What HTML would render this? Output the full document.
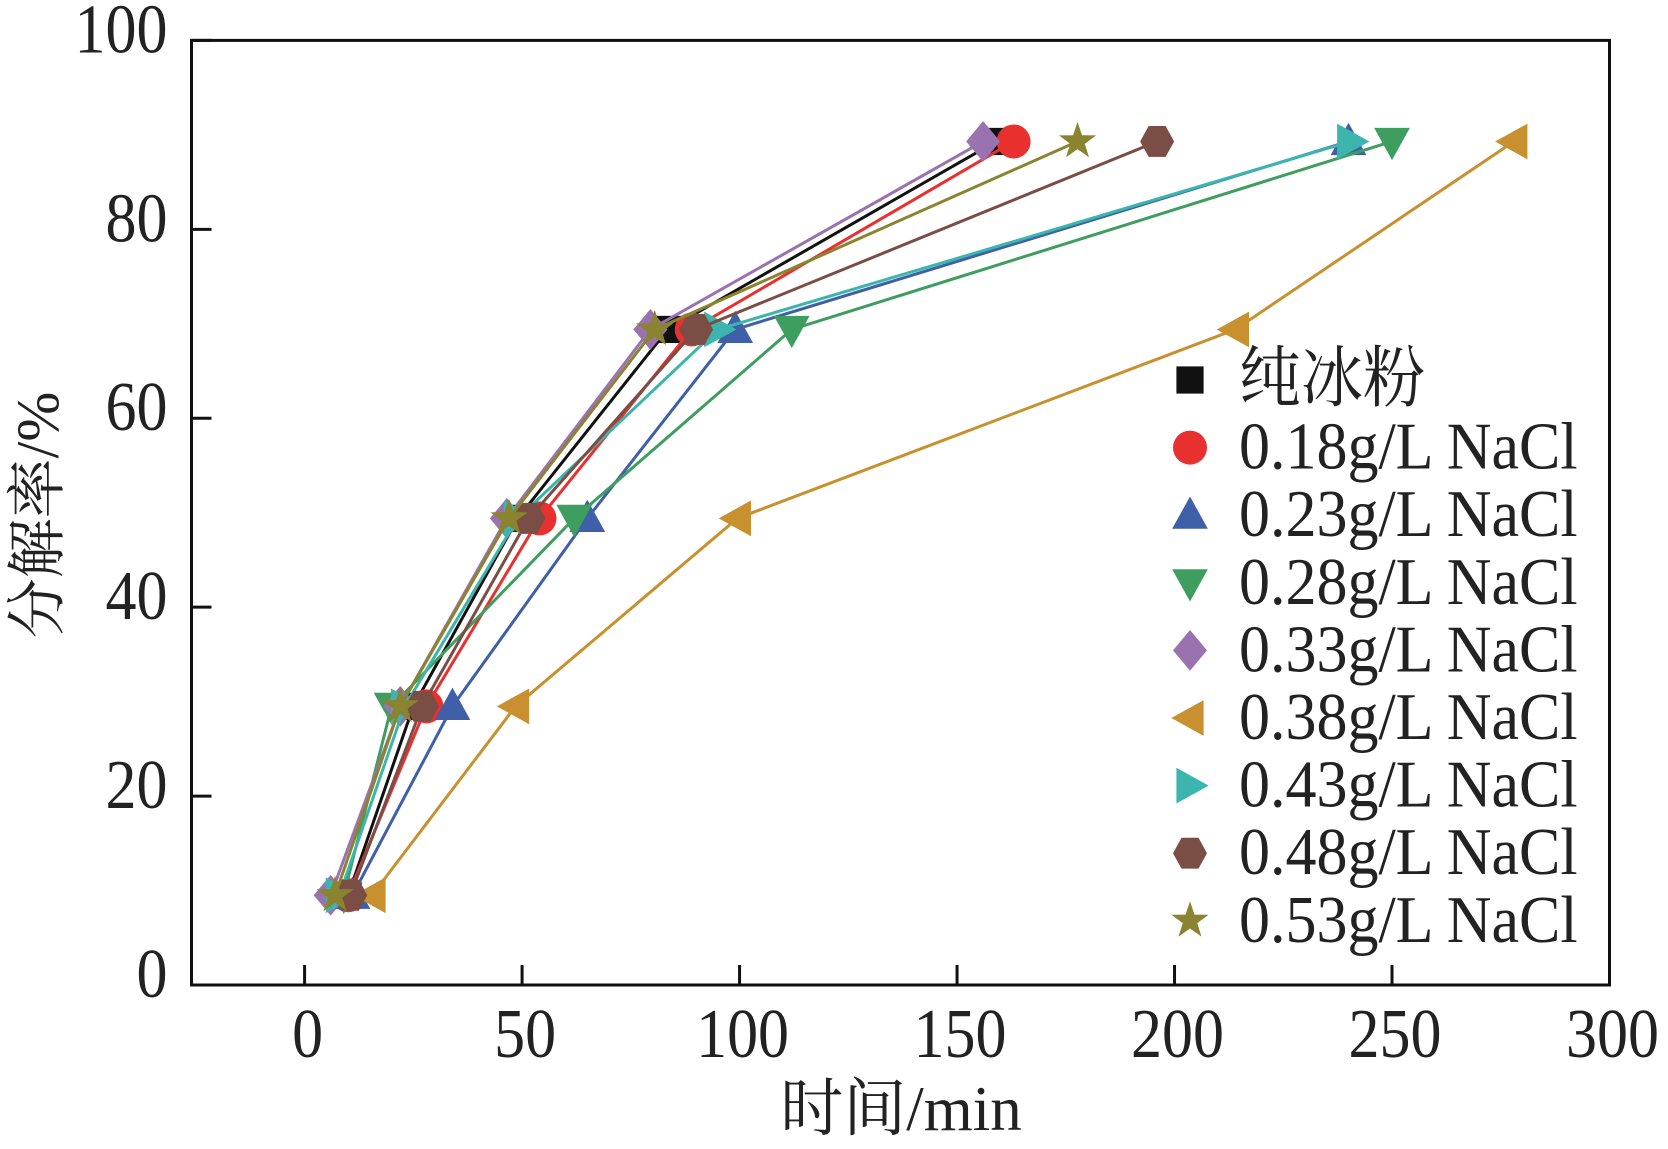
<!DOCTYPE html>
<html><head><meta charset="utf-8"><style>
html,body{margin:0;padding:0;background:#fff;width:1668px;height:1149px;overflow:hidden}
svg text{font-family:"Liberation Serif","Noto Serif CJK SC",serif;fill:#222}
</style></head><body>
<svg id="chart" width="1668" height="1149" viewBox="0 0 1668 1149" xmlns="http://www.w3.org/2000/svg"></svg>
<script>
const yLevels=[9.5,29.5,49.4,69.4,89.3];
const xTicks=[0,50,100,150,200,250,300];
const yTicks=[0,20,40,60,80,100];
const seriesNames=["纯冰粉","0.18g/L NaCl","0.23g/L NaCl","0.28g/L NaCl","0.33g/L NaCl","0.38g/L NaCl","0.43g/L NaCl","0.48g/L NaCl","0.53g/L NaCl"];
const sPure=[10,25,49,83.5,159];
const s018=[10,28,54,89,163];
const s023=[11,34,65,99,240];
const s028=[9,20,62,112,250];
const s033=[6,22,46.5,79.5,156];
const s038=[15.5,48.5,99.5,214,278];
const s043=[8,23,49,95,240.5];
const s048=[10.5,27,51.5,90,196];
const s053=[7,22,47,80.5,177.7];
const seriesX=[sPure,s018,s023,s028,s033,s038,s043,s048,s053];
const colors=["#111","#e8302f","#3f5fa8","#3e9e5f","#9a72b0","#c8902e","#3bb5ad","#7a4e45","#8a8430"];
const markers=["square","circle","up","down","diamond","left","right","hex","star"];

const L=191.5,R=1609.5,T=40.4,B=985;
const xMin=-26,xMax=300,yMin=0,yMax=100;
const sx=v=>L+(v-xMin)/(xMax-xMin)*(R-L);
const sy=v=>B-(v-yMin)/(yMax-yMin)*(B-T);
const NS="http://www.w3.org/2000/svg";
const svg=document.getElementById('chart');
function mk(tag,attrs,parent){const e=document.createElementNS(NS,tag);for(const k in attrs)e.setAttribute(k,attrs[k]);(parent||svg).appendChild(e);return e;}

function marker(type,x,y,c,s,g){
  let e;
  if(type==="square")e=mk('rect',{x:x-s*0.8,y:y-s*0.8,width:s*1.6,height:s*1.6,fill:c},g);
  else if(type==="circle")e=mk('circle',{cx:x,cy:y,r:s,fill:c},g);
  else{
    let pts;
    if(type==="up")pts=[[0,-1.1],[1.05,0.8],[-1.05,0.8]];
    else if(type==="down")pts=[[0,1.1],[1.05,-0.8],[-1.05,-0.8]];
    else if(type==="left")pts=[[-1.1,0],[0.8,-1.05],[0.8,1.05]];
    else if(type==="right")pts=[[1.1,0],[-0.8,-1.05],[-0.8,1.05]];
    else if(type==="diamond")pts=[[0,-1.2],[1,0],[0,1.2],[-1,0]];
    else if(type==="hex"){pts=[];for(let i=0;i<6;i++){const a=Math.PI/3*i;pts.push([Math.cos(a),Math.sin(a)*1.05]);}}
    else if(type==="star"){pts=[];for(let i=0;i<10;i++){const a=-Math.PI/2+Math.PI/5*i;const r=i%2?0.45:1.15;pts.push([Math.cos(a)*r,Math.sin(a)*r]);}}
    e=mk('polygon',{points:pts.map(p=>(x+p[0]*s)+','+(y+p[1]*s)).join(' '),fill:c},g);
  }
  return e;
}

const box=mk('rect',{x:L,y:T,width:R-L,height:B-T,fill:'none',stroke:'#111','stroke-width':3});



xTicks.forEach(v=>{
  const t=mk('line',{x1:sx(v),x2:sx(v),y1:B,y2:B-20,stroke:'#111','stroke-width':3});
  
  
  const lb=mk('text',{x:sx(v)+3,y:B+72,'text-anchor':'middle','font-size':62,transform:'translate('+(sx(v)+3)+','+(B+72)+') scale(1,1.12) translate('+(-(sx(v)+3))+','+(-(B+72))+')'});
  lb.textContent=v;
  
  
});
yTicks.forEach(v=>{
  const t=mk('line',{x1:L,x2:L+20,y1:sy(v),y2:sy(v),stroke:'#111','stroke-width':3});
  
  
  const yy=sy(v)+12;
  const lb=mk('text',{x:L-24,y:yy,'text-anchor':'end','font-size':62,transform:'translate('+(L-24)+','+yy+') scale(1,1.12) translate('+(-(L-24))+','+(-yy)+')'});
  lb.textContent=v;
  
  
});

const xt=mk('text',{x:901,y:1130,'text-anchor':'middle','font-size':63});
xt.textContent='时间/min';


const yt=mk('text',{x:0,y:0,'text-anchor':'middle','font-size':60,transform:'translate(58,515) rotate(-90)'});
yt.textContent='分解率/%';



seriesX.forEach((xs,i)=>{
  const g=mk('g',{});
  
  
  const pl=mk('polyline',{points:xs.map((v,j)=>sx(v)+','+sy(yLevels[j])).join(' '),fill:'none',stroke:colors[i],'stroke-width':3},g);
  
  
  xs.forEach((v,j)=>{
    const m=marker(markers[i],sx(v),sy(yLevels[j]),colors[i],17,g);
    
    
  });
});

const lg=mk('g',{});


seriesNames.forEach((n,i)=>{
  const y=380+i*67.6;
  const m=marker(markers[i],1190,y,colors[i],17,lg);
  
  
  const ty=y+21;
  const t=mk('text',{x:1239,y:ty,'font-size':62,transform:'translate(1239,'+ty+') scale(1,1.08) translate(-1239,'+(-ty)+')'},lg);
  t.textContent=n;
  
  
});
</script>
</body></html>
